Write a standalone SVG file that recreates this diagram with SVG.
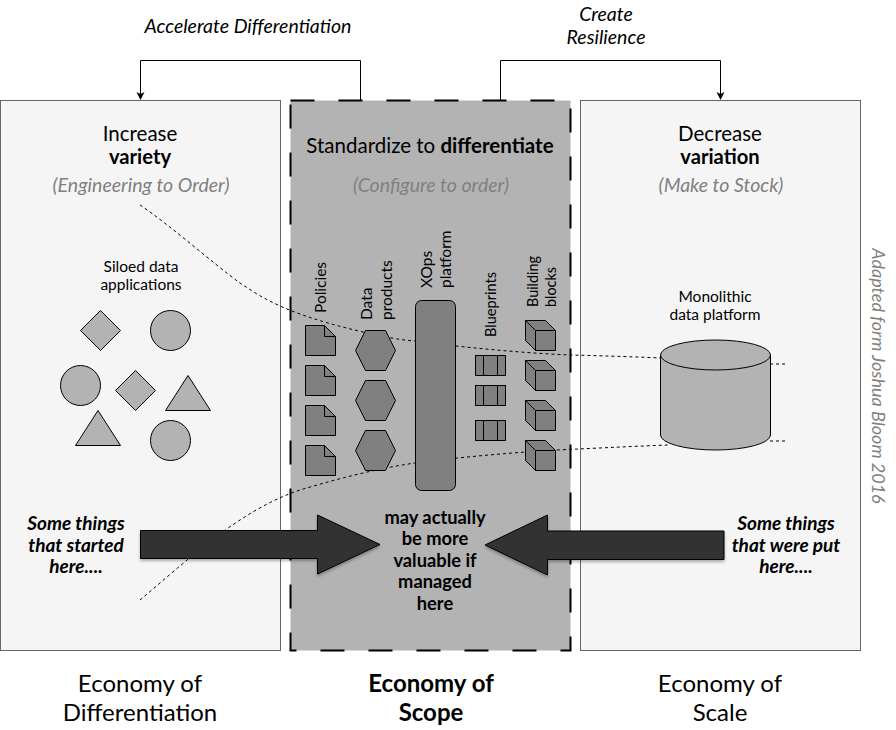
<svg xmlns="http://www.w3.org/2000/svg" width="896" height="730" viewBox="0 0 896 730">
<defs>
<style>
text{font-family:"Lato","Open Sans","Liberation Sans",sans-serif;fill:#000;text-anchor:middle}
.h{font-size:20.500px}.hb{font-size:20.200px;font-weight:700}
.sub{font-size:19.500px;font-style:italic;fill:#808080}
.top{font-size:19.500px;font-style:italic}
.s{font-size:15.500px}
.r{font-size:15.500px;text-anchor:start}
.eco{font-size:24px}.ecob{font-size:24px;font-weight:700}
.it{font-size:19px;font-weight:700;font-style:italic}
.b{font-size:18.300px;font-weight:700}
.shape{fill:#b3b3b3;stroke:#000;stroke-width:1}
.dark{fill:#808080;stroke:#000;stroke-width:1}
.dots{fill:none;stroke:#000;stroke-width:1;stroke-dasharray:3 3}
.ln{fill:none;stroke:#000;stroke-width:1}
.arr{fill:#333;stroke:#000;stroke-width:1;filter:url(#sh)}
</style>
<filter id="sh" x="-10%" y="-10%" width="120%" height="130%"><feDropShadow dx="0" dy="2" stdDeviation="1.500" flood-color="#000" flood-opacity="0.3"/></filter>
<marker id="ah" markerWidth="10" markerHeight="10" refX="7" refY="4" orient="auto" markerUnits="userSpaceOnUse"><path d="M0 0L8 4L0 8L2 4Z" fill="#000"/></marker>
<g id="doc"><path class="dark" d="M0 0H19L30 11V30H0Z"/><path class="ln" d="M19 0V11H30"/></g>
<polygon id="hex" class="dark" points="-20,0 -10,-20 10,-20 20,0 10,20 -10,20" />
<g id="bp"><rect class="dark" width="30" height="20"/><path class="ln" d="M8 0V20M22 0V20"/></g>
<g id="cube"><path class="dark" d="M0 0H20L30 10V30H10L0 20Z"/><path class="ln" d="M0 0L10 10H30M10 10V30"/></g>
</defs>
<rect width="896" height="730" fill="#fff"/>
<g id="panel-left"><rect x="0.500" y="100.500" width="280" height="550" fill="#f5f5f5" stroke="#666"/>
<text class="h" x="140" y="141">Increase</text><text class="hb" x="140" y="164">variety</text><text class="sub" x="141" y="192">(Engineering to Order)</text></g>
<g id="panel-right"><rect x="580.500" y="100.500" width="280" height="550" fill="#f5f5f5" stroke="#666"/>
<text class="h" x="720" y="141">Decrease</text><text class="hb" x="720" y="164">variation</text><text class="sub" x="721" y="192">(Make to Stock)</text></g>
<g id="panel-center"><rect x="290.500" y="100.500" width="280" height="550" fill="#b3b3b3" stroke="#000" stroke-width="2" stroke-dasharray="24 24"/>
<text class="h" x="430" y="153">Standardize to <tspan font-weight="700">differentiate</tspan></text><text class="sub" x="431" y="192">(Configure to order)</text></g>
<g id="connectors">
<path class="ln" d="M360.500 100V60.500H140.500V99" marker-end="url(#ah)"/>
<path class="ln" d="M500.500 100V60.500H720.500V99" marker-end="url(#ah)"/>
<path class="dots" d="M140 205C170 225 215 265 240 283C265 300 290 315 363 332C385 337 400 340 415 341C450 346 520 353 570 355C610 356 640 357 660 358"/>
<path class="dots" d="M770 364H788"/>
<path class="dots" d="M140 600C190 558 240 510 300 490C340 478 380 468 415 463C460 457 520 452 557 450C600 448 640 446 668 445"/>
<path class="dots" d="M770 441H788"/>
</g>
<g id="siloed"><text class="s" x="141" y="272">Siloed data</text><text class="s" x="141" y="290">applications</text>
<polygon class="shape" points="100.500,310.500 120.500,330.500 100.500,350.500 80.500,330.500"/>
<circle class="shape" cx="170.500" cy="330.500" r="20"/>
<circle class="shape" cx="80.500" cy="385.500" r="20"/>
<polygon class="shape" points="135.500,370.500 155.500,390.500 135.500,410.500 115.500,390.500"/>
<polygon class="shape" points="188,375.500 210.500,410.500 165.500,410.500"/>
<polygon class="shape" points="98,410.500 120.500,445.500 75.500,445.500"/>
<circle class="shape" cx="170.500" cy="440.500" r="20"/></g>
<g id="policies"><text class="r" transform="translate(326,313) rotate(-90)">Policies</text>
<use href="#doc" x="305.500" y="325.500"/><use href="#doc" x="305.500" y="365.500"/><use href="#doc" x="305.500" y="405.500"/><use href="#doc" x="305.500" y="445.500"/></g>
<g id="data-products"><text class="r" transform="translate(372,320) rotate(-90)">Data</text><text class="r" transform="translate(392,320) rotate(-90)">products</text>
<use href="#hex" x="375.500" y="350.500"/><use href="#hex" x="375.500" y="400.500"/><use href="#hex" x="375.500" y="450.500"/></g>
<g id="xops"><text class="r" transform="translate(432,288) rotate(-90)">XOps</text><text class="r" transform="translate(451,288) rotate(-90)">platform</text>
<rect class="dark" x="415.500" y="300.500" width="40" height="190" rx="6"/></g>
<g id="blueprints"><text class="r" transform="translate(496,337) rotate(-90)" textLength="65" lengthAdjust="spacingAndGlyphs">Blueprints</text>
<use href="#bp" x="475.500" y="355.500"/><use href="#bp" x="475.500" y="385.500"/><use href="#bp" x="475.500" y="420.500"/></g>
<g id="blocks"><text class="r" transform="translate(538,307) rotate(-90)" textLength="51" lengthAdjust="spacingAndGlyphs">Building</text><text class="r" transform="translate(556,307) rotate(-90)" textLength="40" lengthAdjust="spacingAndGlyphs">blocks</text>
<use href="#cube" x="525.500" y="320.500"/><use href="#cube" x="525.500" y="360.500"/><use href="#cube" x="525.500" y="400.500"/><use href="#cube" x="525.500" y="440.500"/></g>
<g id="monolith"><text class="s" x="715" y="302">Monolithic</text><text class="s" x="715" y="320">data platform</text>
<path d="M660.500 355V435A55 15 0 0 0 770.500 435V355" fill="#b3b3b3" stroke="#000"/>
<ellipse cx="715.500" cy="355" rx="55" ry="15" fill="#b3b3b3" stroke="#000"/></g>
<g id="arrow-left"><polygon class="arr" points="140.500,530.500 317.500,530.500 317.500,515 380,544.500 317.500,574 317.500,558.500 140.500,558.500"/></g>
<g id="arrow-right"><polygon class="arr" points="724,531 547.500,531 547.500,515 485,545 547.500,575 547.500,559.500 724,559.500"/></g>
<text class="it" x="76" y="530">Some things</text><text class="it" x="76" y="552">that started</text><text class="it" x="76" y="573">here....</text>
<text class="it" x="786" y="530">Some things</text><text class="it" x="786" y="552">that were put</text><text class="it" x="786" y="573">here....</text>
<g id="center-note"><text class="b" x="435" y="524">may actually</text><text class="b" x="435" y="545">be more</text><text class="b" x="435" y="567">valuable if</text><text class="b" x="435" y="588">managed</text><text class="b" x="435" y="610">here</text></g>
<text class="top" x="248" y="33">Accelerate Differentiation</text>
<text class="top" x="606" y="21">Create</text><text class="top" x="606" y="44">Resilience</text>
<text class="eco" x="140" y="692">Economy of</text><text class="eco" x="140" y="721">Differentiation</text>
<text class="ecob" x="431" y="692">Economy of</text><text class="ecob" x="431" y="721">Scope</text>
<text class="eco" x="720" y="692">Economy of</text><text class="eco" x="720" y="721">Scale</text>
<text transform="translate(872,376) rotate(90)" style="font-size:18px;font-style:italic;fill:#808080">Adapted form Joshua Bloom 2016</text>
</svg>
